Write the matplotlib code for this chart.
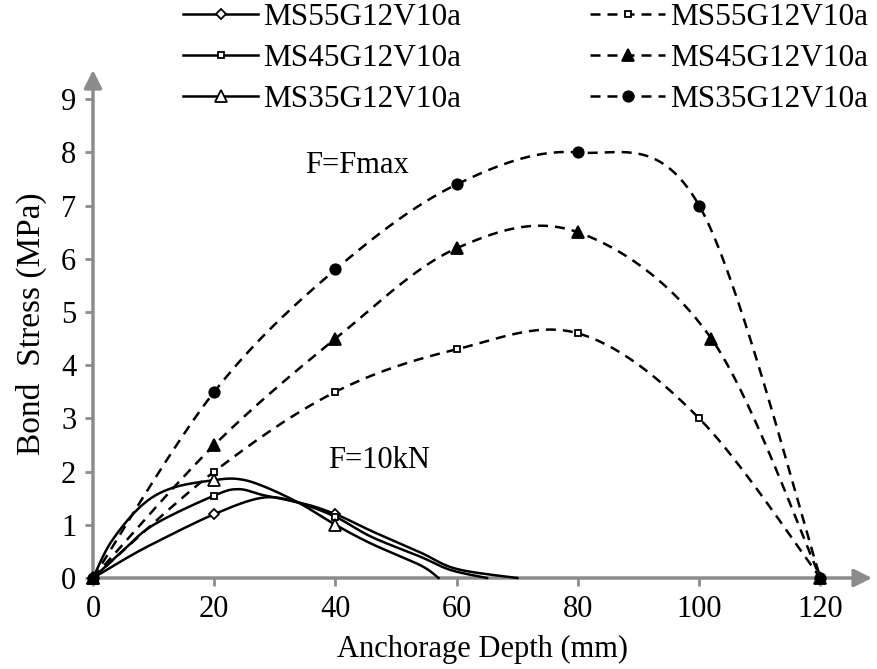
import numpy as np
import matplotlib
matplotlib.use('Agg')
import matplotlib.pyplot as plt
from matplotlib.lines import Line2D

plt.rcParams['font.family'] = ['Liberation Serif', 'DejaVu Serif']

# F = 10 kN (solid lines), curve readings; markers only at 0, 20, 40 mm
d55_x = [0, 5, 10, 20, 28, 34, 40, 46, 54, 60, 70]
d55_y = [0, 0.34, 0.65, 1.2, 1.51, 1.42, 1.2, 0.88, 0.48, 0.17, 0]
d45_x = [0, 5, 10, 20, 24, 28, 34, 40, 46, 54, 59, 65]
d45_y = [0, 0.52, 1.0, 1.55, 1.67, 1.56, 1.41, 1.15, 0.77, 0.4, 0.15, 0]
d35_x = [0, 3, 8, 13, 20, 24, 28, 34, 40, 46, 54, 57]
d35_y = [0, 0.68, 1.36, 1.69, 1.84, 1.86, 1.73, 1.41, 1.0, 0.64, 0.24, 0]
marked_x = [0, 20, 40]

# F = Fmax (dashed lines)
f55_x = [0, 20, 40, 60, 80, 100, 120]
f55_y = [0, 2.0, 3.5, 4.3, 4.6, 3.0, 0]
f45_x = [0, 20, 40, 60, 80, 102, 120]
f45_y = [0, 2.5, 4.5, 6.2, 6.5, 4.5, 0]
f35_x = [0, 20, 40, 60, 80, 100, 120]
f35_y = [0, 3.5, 5.8, 7.4, 8.0, 7.0, 0]

labels = ['MS55G12V10a', 'MS45G12V10a', 'MS35G12V10a']


def smooth(x, y, n=40):
    # excel-like smoothed line (catmull-rom through the points)
    p = np.column_stack([x, y]).astype(float)
    out = [p[0:1]]
    t = np.linspace(0, 1, n)[1:, None]
    for i in range(len(p) - 1):
        p0 = p[i - 1] if i > 0 else p[i]
        p1, p2 = p[i], p[i + 1]
        p3 = p[i + 2] if i + 2 < len(p) else p[i + 1]
        b1 = p1 + (p2 - p0) / 6
        b2 = p2 - (p3 - p1) / 6
        out.append((1 - t)**3 * p1 + 3 * (1 - t)**2 * t * b1 + 3 * (1 - t) * t**2 * b2 + t**3 * p2)
    c = np.vstack(out)
    return c[:, 0], c[:, 1]


fig = plt.figure(figsize=(8.78, 6.69), dpi=100)
ax = fig.add_axes([93 / 878, 91 / 669, 779 / 878, 508 / 669])
gray = '#8c8c8c'
lw = 1.8
dash = (0, (4, 2.8))

solid_styles = [dict(marker='D', ms=5, mfc='white'),
                dict(marker='s', ms=4.5, mfc='white'),
                dict(marker='^', ms=8, mfc='white')]
dash_styles = [dict(marker='s', ms=5, mfc='white'),
                dict(marker='^', ms=8, mfc='black'),
                dict(marker='o', ms=7.5, mfc='black')]

handles = []
for (xs, ys), st in zip([(d55_x, d55_y), (d45_x, d45_y), (d35_x, d35_y)], solid_styles):
    sx, sy = smooth(xs, ys)
    ax.plot(sx, sy, color='black', lw=lw, clip_on=False, zorder=3)
    mx = [v for v in xs if v in marked_x]
    my = [ys[xs.index(v)] for v in mx]
    ax.plot(mx, my, ls='none', color='black', mec='black', mew=1.3, clip_on=False, zorder=4, **st)
    handles.append(Line2D([], [], color='black', lw=lw, mec='black', mew=1.3, **st))

for (xs, ys), st in zip([(f55_x, f55_y), (f45_x, f45_y), (f35_x, f35_y)], dash_styles):
    sx, sy = smooth(xs, ys)
    ax.plot(sx, sy, color='black', lw=lw, ls=dash, clip_on=False, zorder=3)
    ax.plot(xs, ys, ls='none', color='black', mec='black', mew=1.3, clip_on=False, zorder=4, **st)
    handles.append(Line2D([], [], color='black', lw=lw, ls=dash, mec='black', mew=1.3, **st))

ax.set_xlim(0, 128.5)
ax.set_ylim(0, 9.55)
ax.set_xticks(range(0, 121, 20))
ax.set_yticks(range(0, 10))
for s in ax.spines.values():
    s.set_visible(False)
ax.tick_params(direction='out', length=6, width=2, color=gray, labelsize=22)
ax.tick_params(axis='x', pad=6)
ax.tick_params(axis='y', pad=6)
arr = dict(arrowstyle='-|>', color=gray, lw=2.5, mutation_scale=27, shrinkA=0, shrinkB=0)
ax.annotate('', xy=(1, 0), xytext=(0, 0), xycoords='axes fraction', arrowprops=arr, zorder=1)
ax.annotate('', xy=(0, 1), xytext=(0, 0), xycoords='axes fraction', arrowprops=arr, zorder=1)

ax.set_xlabel('Anchorage Depth (mm)', fontsize=22, labelpad=8)
ax.set_ylabel('Bond  Stress (MPa)', fontsize=24, labelpad=10)

ax.text(35, 7.76, 'F=Fmax', fontsize=22, va='center')
ax.text(38.8, 2.2, 'F=10kN', fontsize=22, va='center')

fig.legend(handles, labels * 2, ncol=2, loc='upper left', bbox_to_anchor=(183 / 878, 1 - 3 / 669),
           frameon=False, fontsize=22.5, numpoints=1, handlelength=2.4, handletextpad=0.15,
           columnspacing=4.15, labelspacing=0.38, borderpad=0, borderaxespad=0.0)

fig.savefig('out.png', dpi=100)
